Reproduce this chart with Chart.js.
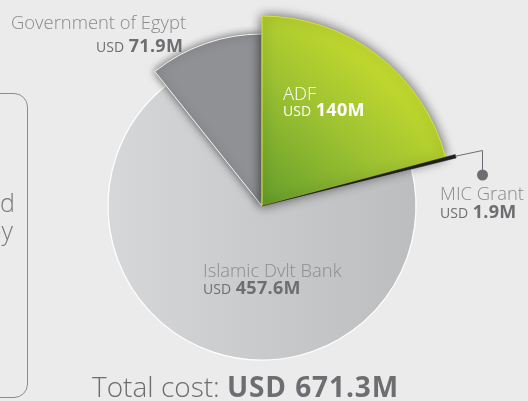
<!DOCTYPE html>
<html>
<head>
<meta charset="utf-8">
<script src="https://cdn.jsdelivr.net/npm/chart.js@4.4.1/dist/chart.umd.min.js"></script>
<style>
html, body { margin: 0; padding: 0; background: #ebebeb; overflow: hidden; }
#wrap { position: relative; width: 528px; height: 401px; font-family: "Open Sans", Roboto, sans-serif; overflow: hidden; }
#chart { position: absolute; left: 0; top: 0; }
.lbl { position: absolute; line-height: 1; white-space: nowrap; font-weight: 300; }
.lbl b { font-weight: 700; letter-spacing: 0.3px; }
.lbl .usd { font-weight: 400; }
.lbl.total b { letter-spacing: 0.9px; }
.bl { display: inline-block; width: 0; height: 0; vertical-align: baseline; }
#note { position: absolute; left: -220px; top: 93px; width: 246px; height: 303px; border: 1.3px solid #8c8c8c; border-radius: 14px; }
</style>
</head>
<body>
<div id="wrap">
  <div id="note"></div>
  <canvas id="chart" width="528" height="401"></canvas>
</div>
<script>
// data
const labels = ['ADF', 'MIC Grant', 'Islamic Dvlt Bank', 'Government of Egypt'];
const values = [140, 1.9, 457.6, 71.9];
const totalCost = 671.3;

// look of the slices
const sliceRadius = [190, 200, 154, 172];
const drawOrder = [2, 3, 0, 1];
const sliceShadow = [12, 0, 0, 9];
const flatColors = ['#8fb82e', '#1f1f1f', '#c9cacc', '#909194'];

function sliceFill(c) {
    const a = c.chart.chartArea;
    const i = c.dataIndex;
    if (!a || (i !== 0 && i !== 2)) return flatColors[i];
    const cx = (a.left + a.right) / 2, cy = (a.top + a.bottom) / 2;
    const ctx = c.chart.ctx;
    let g;
    if (i === 0) {
        g = ctx.createLinearGradient(cx - 10, cy + 10, cx + 130, cy - 150);
        g.addColorStop(0, '#5c982b');
        g.addColorStop(0.55, '#9cc131');
        g.addColorStop(1, '#c8dc2e');
    } else {
        g = ctx.createLinearGradient(cx - 154, 0, cx + 154, 0);
        g.addColorStop(0, '#d6d7d9');
        g.addColorStop(1, '#bcbdbf');
    }
    return g;
}

const sliceLayout = {
    id: 'sliceLayout',
    afterDatasetsUpdate(chart) {
        chart.getDatasetMeta(0).data.forEach((arc, i) => { arc.outerRadius = sliceRadius[i]; });
    },
    beforeDatasetDraw(chart, args) {
        const ctx = chart.ctx;
        drawOrder.forEach(i => {
            ctx.save();
            if (sliceShadow[i]) {
                ctx.shadowColor = 'rgba(0,0,0,0.6)';
                ctx.shadowBlur = sliceShadow[i];
            }
            args.meta.data[i].draw(ctx);
            ctx.restore();
        });
        return false;
    },
    afterDraw(chart) {
        // leader line for the thin MIC slice
        const arc = chart.getDatasetMeta(0).data[1];
        const mid = (arc.startAngle + arc.endAngle) / 2;
        const sx = arc.x + Math.cos(mid) * arc.outerRadius;
        const sy = arc.y + Math.sin(mid) * arc.outerRadius;
        const ctx = chart.ctx;
        ctx.save();
        ctx.strokeStyle = '#6d6e71';
        ctx.fillStyle = '#6d6e71';
        ctx.lineWidth = 1;
        ctx.beginPath();
        ctx.moveTo(sx, sy);
        ctx.lineTo(482.5, 150.5);
        ctx.lineTo(482.5, 172);
        ctx.stroke();
        ctx.beginPath();
        ctx.arc(482.5, 175, 5.5, 0, Math.PI * 2);
        ctx.fill();
        ctx.restore();
    }
};

new Chart(document.getElementById('chart'), {
    type: 'pie',
    data: {
        labels: labels,
        datasets: [{
            data: values,
            backgroundColor: sliceFill,
            borderColor: ['#d6e03a', '#1f1f1f', '#ffffff', '#f2f2f2'],
            borderWidth: [1, 0.5, 1.2, 1]
        }]
    },
    options: {
        responsive: false,
        animation: false,
        events: [],
        layout: { padding: { left: 0, right: 4, top: 11, bottom: 0 } },
        plugins: { legend: { display: false }, tooltip: { enabled: false } }
    },
    plugins: [sliceLayout]
});

// text, placed by its baseline
const wrap = document.getElementById('wrap');
function putText(html, x, base, size, color, align, extra) {
    const d = document.createElement('div');
    d.className = 'lbl' + (extra ? ' ' + extra : '');
    d.style.fontSize = size + 'px';
    d.style.color = color;
    d.innerHTML = html + '<span class="bl"></span>';
    wrap.appendChild(d);
    const mark = d.querySelector('.bl');
    d.style.top = (base - mark.offsetTop - mark.offsetHeight) + 'px';
    d.style.left = (align === 'right' ? x - d.offsetWidth : x) + 'px';
}
function money(v, size) {
    return '<span class="usd" style="font-size:' + (size - 4) + 'px">USD</span> <b>' + v + 'M</b>';
}

putText('The project is funded', 15, 212, 25, '#7a7a7a', 'right');
putText('jointly by', 13, 240, 25, '#7a7a7a', 'right');

putText(labels[3], 186, 29, 18.4, '#898a8c', 'right');
putText(money(values[3], 18), 183, 52, 18, '#6d6e71', 'right');

putText(labels[0], 283, 100, 18.4, '#ffffff');
putText(money(values[0], 18), 283, 116, 18, '#ffffff');

putText(labels[1], 440, 200, 18.4, '#898a8c');
putText(money(values[1], 18), 440, 218, 18, '#6d6e71');

putText(labels[2], 203, 277, 18.4, '#8c8d8f');
putText(money(values[2], 18), 203, 294, 18, '#6d6e71');

putText('Total cost: <b>USD ' + totalCost + 'M</b>', 92, 397, 28, '#6d6e71', 'left', 'total');
</script>
</body>
</html>
